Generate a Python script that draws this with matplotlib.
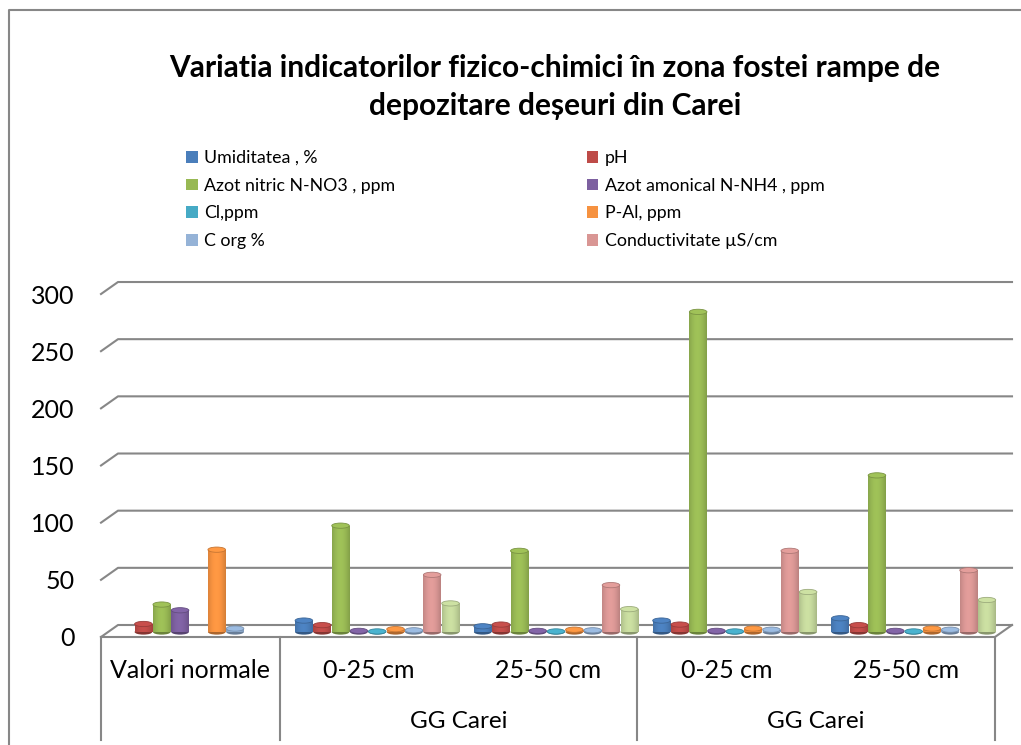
import numpy as np
import matplotlib
matplotlib.use("Agg")
import matplotlib.pyplot as plt
from matplotlib.patches import Patch, Ellipse, Rectangle
from matplotlib.lines import Line2D

plt.rcParams['font.family'] = ['Lato', 'DejaVu Sans']

# data
categories = ["Valori normale", "0-25 cm", "25-50 cm", "0-25 cm", "25-50 cm"]
groups = ["GG Carei", "GG Carei"]
nan = np.nan
umiditatea = [nan, 10, 5, 10, 12]
ph = [7, 6, 6.5, 6.5, 6]
azot_nitric = [24, 93, 71, 280, 137]
azot_amonical = [19, 1, 1, 1, 1]
cl = [nan, 0.5, 0.5, 0.5, 0.5]
p_al = [72, 2.5, 2, 3, 3]
c_org = [3, 1.5, 1.5, 2, 2]
conductivitate = [nan, 50, 41, 71, 54]
serie9 = [nan, 25, 20, 35, 28]

series = [umiditatea, ph, azot_nitric, azot_amonical, cl, p_al, c_org, conductivitate, serie9]
names = ["Umiditatea , %", "pH", "Azot nitric N-NO3 , ppm", "Azot amonical N-NH4 , ppm",
         "Cl,ppm", "P-Al, ppm", "C org %", "Conductivitate µS/cm", None]
colors = ["#4a7ebb", "#be4b48", "#98b954", "#7d60a0", "#46aac5", "#f69240", "#95b3d7", "#d99694", "#c3d69b"]
yticks = [0, 50, 100, 150, 200, 250, 300]

W, H = 1021, 745
fig = plt.figure(figsize=(W / 100, H / 100), dpi=100)

# perspective offsets (front / back of the floor) in data units
sx, sy = 178.8, 1.1433
dxf, dyf = -8 / sx, -5 / sy
dxb, dyb = 9 / sx, 7 / sy
x0, x1 = -0.5 + dxf, 4.5 + dxb
y0, y1 = dyf, 300 + dyb
px_l, px_b = 101, 637
ax = fig.add_axes([px_l / W, (H - px_b) / H, (x1 - x0) * sx / W, (y1 - y0) * sy / H])
ax.set_xlim(x0, x1)
ax.set_ylim(y0, y1)
for s in ax.spines.values():
    s.set_visible(False)
ax.set_xticks([])
ax.set_yticks([v + dyf for v in yticks], [str(v) for v in yticks], fontsize=18)
ax.tick_params(axis='y', length=0, pad=19)

grid_c = "#878787"
for v in yticks:
    ax.plot([-0.5 + dxf, -0.5 + dxb, 4.5 + dxb], [v + dyf, v + dyb, v + dyb],
            color=grid_c, lw=1.5, clip_on=False, zorder=1)
# floor front and right edge
ax.plot([-0.5 + dxf, 4.5 + dxf, 4.5 + dxb], [dyf, dyf, dyb], color=grid_c, lw=1.5, clip_on=False, zorder=1)

# cylinders
n = len(series)
w = 0.1025
x = np.arange(len(categories))
grad = np.linspace(0, 1, 64)
shade = 0.5 + 0.5 * np.sin(np.pi * (grad * 0.85 + 0.1))
eh = 4.6  # ellipse height in value units
for i, (vals, col) in enumerate(zip(series, colors)):
    xs = x + (i - (n - 1) / 2) * w
    bars = ax.bar(xs, vals, width=w * 0.96, color=col, zorder=3, linewidth=0)
    rgb = np.array(matplotlib.colors.to_rgb(col))
    img = np.clip(rgb[None, :] * (0.6 + 0.45 * shade[:, None]), 0, 1).reshape(1, -1, 3)
    for b, v in zip(bars, vals):
        if np.isnan(v):
            continue
        bx, bw = b.get_x(), b.get_width()
        body = Rectangle((bx, 0), bw, v, transform=ax.transData)
        im = ax.imshow(img, extent=(bx, bx + bw, 0, v), aspect='auto', zorder=3.5, interpolation='bilinear')
        im.set_clip_path(body)
        bot = Ellipse((bx + bw / 2, 0), bw, eh, facecolor=rgb * 0.7, edgecolor='none', zorder=3.2)
        ax.add_patch(bot)
        top = Ellipse((bx + bw / 2, v), bw, eh, facecolor=np.clip(rgb * 1.05, 0, 1),
                      edgecolor=rgb * 0.8, lw=0.6, zorder=4)
        ax.add_patch(top)
ax.set_xlim(x0, x1)
ax.set_ylim(y0, y1)

# category table
tr = ax.get_xaxis_transform()
hax = (y1 - y0) * sy
for k in [0, 1, 3, 5]:
    ax.plot([k - 0.5 + dxf] * 2, [0, -(740 - px_b) / hax], color=grid_c, lw=1.5,
            transform=tr, clip_on=False)
for k, c in enumerate(categories):
    ax.text(k + dxf, -(671 - px_b) / hax, c, transform=tr, ha='center', va='center', fontsize=18)
for g, c in zip(groups, [1.5, 3.5]):
    ax.text(c + dxf, -(722 - px_b) / hax, g, transform=tr, ha='center', va='center', fontsize=17.5)

# legend
order = [0, 2, 4, 6, 1, 3, 5, 7]
handles = [Patch(facecolor=colors[j], edgecolor='none') for j in order]
labels = [names[j] for j in order]
fig.legend(handles, labels, ncol=2, loc='upper left', bbox_to_anchor=(186 / W, 1 - 150 / H),
           frameon=False, fontsize=12.8, handlelength=0.65, handleheight=0.65, handletextpad=0.35,
           labelspacing=0.66, columnspacing=10.8, borderaxespad=0, borderpad=0)

fig.text(555 / W, 1 - 87 / H, "Variatia indicatorilor fizico-chimici în zona fostei rampe de\ndepozitare deșeuri din Carei",
         ha='center', va='center', fontsize=21.5, fontweight='bold', linespacing=1.45)

# chart border (left and top)
fig.add_artist(Line2D([9 / W, 9 / W, 1], [0, 1 - 10 / H, 1 - 10 / H], color=grid_c, lw=1.5))

fig.savefig("out.png", dpi=100)
